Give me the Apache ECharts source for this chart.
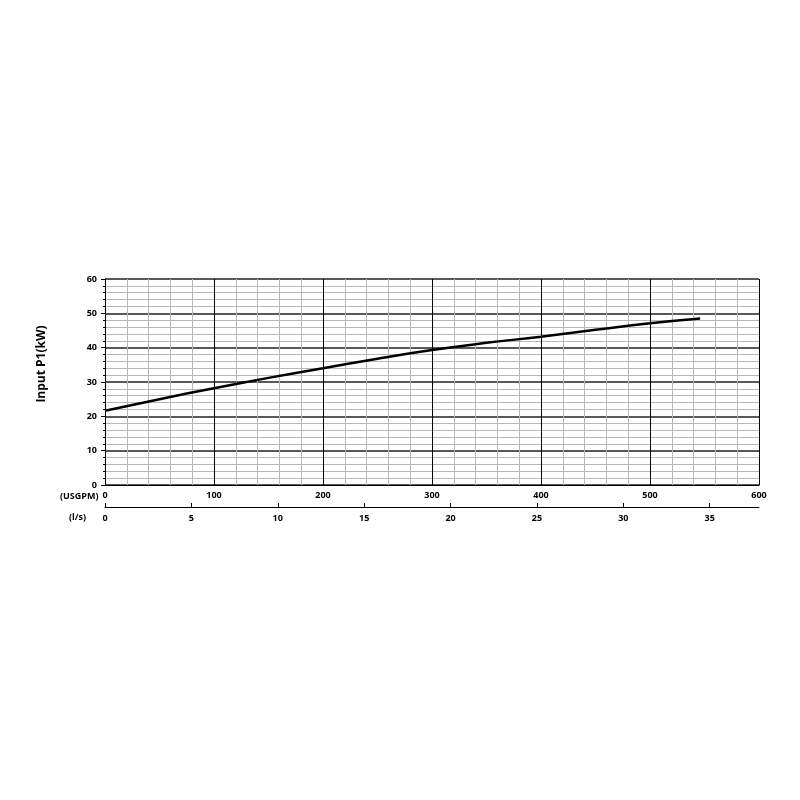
<!DOCTYPE html>
<html>
<head>
<meta charset="utf-8">
<script src="https://cdn.jsdelivr.net/npm/echarts@6/dist/echarts.min.js"></script>
<style>
  html, body { margin: 0; padding: 0; background: #fff; }
  #chart { width: 800px; height: 800px; }
</style>
</head>
<body>
<div id="chart"></div>
<script>
// Data (flow in USGPM, input power in kW)
const flowUsgpm = [0, 50, 100, 150, 200, 250, 300, 350, 400, 450, 500, 546];
const powerKw = [21.6, 25.0, 28.2, 31.2, 34.0, 36.8, 39.3, 41.4, 43.2, 45.2, 47.1, 48.5];

const USGPM_PER_LS = 15.8503;
const fontFam = '"Open Sans", "Liberation Sans", sans-serif';

const chart = echarts.init(document.getElementById('chart'));

const labelStyle = { color: '#000', fontWeight: 'bold', fontSize: 9, fontFamily: fontFam };

chart.setOption({
    backgroundColor: '#fff',
    animation: false,
    grid: { left: 105, right: 41, top: 279, bottom: 315 },
    xAxis: [{
        type: 'value', min: 0, max: 600, interval: 100,
        position: 'bottom',
        axisLine: { show: true, lineStyle: { color: '#000', width: 1 } },
        axisTick: { show: false },
        axisLabel: { ...labelStyle, margin: 6 },
        splitLine: { show: true, lineStyle: { color: '#000', width: 1 } },
        minorTick: { show: false, splitNumber: 5 },
        minorSplitLine: { show: true, lineStyle: { color: '#b8b8b8', width: 1 } }
    }, {
        type: 'value', min: 0, max: 600 / USGPM_PER_LS, interval: 5,
        position: 'bottom', offset: 22,
        axisLine: { show: true, onZero: false, lineStyle: { color: '#000', width: 1 } },
        axisTick: { show: true, inside: true, length: 4, lineStyle: { color: '#000' } },
        axisLabel: { ...labelStyle, margin: 7, showMaxLabel: false },
        splitLine: { show: false }
    }],
    yAxis: {
        type: 'value', min: 0, max: 60, interval: 10,
        axisLine: { show: true, lineStyle: { color: '#000', width: 1 } },
        axisTick: { show: true, length: 4, lineStyle: { color: '#000' } },
        axisLabel: { ...labelStyle, margin: 8 },
        splitLine: { show: true, lineStyle: { color: '#222', width: 1.5 } },
        minorTick: { show: true, splitNumber: 5, length: 2, lineStyle: { color: '#000' } },
        minorSplitLine: { show: true, lineStyle: { color: '#b8b8b8', width: 1 } }
    },
    graphic: [
        { type: 'text', x: 42, y: 364, rotation: Math.PI / 2,
          style: { text: 'Input P1(kW)', fill: '#000', font: 'bold 12px ' + fontFam, align: 'center', verticalAlign: 'middle' } },
        { type: 'text', left: 60, top: 492, style: { text: '(USGPM)', fill: '#000', font: 'bold 9px ' + fontFam } },
        { type: 'text', left: 69, top: 513, style: { text: '(l/s)', fill: '#000', font: 'bold 9px ' + fontFam } }
    ],
    series: [{
        type: 'line',
        xAxisIndex: 0,
        data: flowUsgpm.map((f, i) => [f, powerKw[i]]),
        smooth: true,
        showSymbol: false,
        lineStyle: { color: '#000', width: 2.5 }
    }]
});
</script>
</body>
</html>
